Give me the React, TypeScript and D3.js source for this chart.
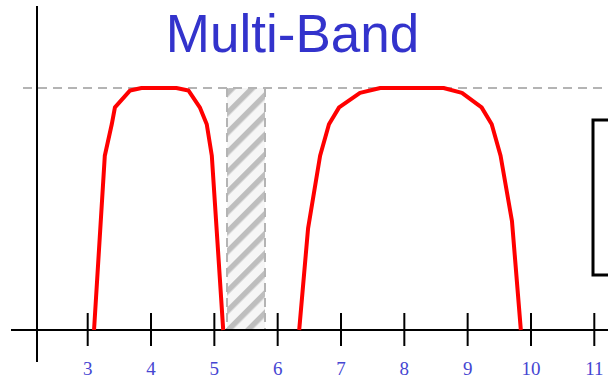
import React from "react";
import * as d3 from "d3";

const tickValues = [3, 4, 5, 6, 7, 8, 9, 10, 11];
const band1X = [3.1, 3.27, 3.38, 3.43, 3.67, 3.85, 4.4, 4.59, 4.77, 4.88, 4.96, 5.14];
const band1Y = [0, 0.72, 0.85, 0.92, 0.99, 1.0, 1.0, 0.99, 0.92, 0.85, 0.72, 0];
const band2X = [6.34, 6.48, 6.67, 6.81, 6.97, 7.3, 7.62, 8.62, 8.91, 9.22, 9.38, 9.52, 9.7, 9.84];
const band2Y = [0, 0.42, 0.72, 0.85, 0.92, 0.98, 1.0, 1.0, 0.98, 0.92, 0.85, 0.72, 0.45, 0];
const guardBand = [5.2, 5.8];
const title = "Multi-Band";

const W = 608;
const H = 378;

export default function App() {
  const x = d3.scaleLinear().domain([3, 11]).range([87.7, 594.3]);
  const y = d3.scaleLinear().domain([0, 1]).range([330, 88]);
  const line = d3
    .line<[number, number]>()
    .x((d) => x(d[0]))
    .y((d) => y(d[1]))
    .curve(d3.curveLinear);
  const b1: [number, number][] = band1X.map((v, i) => [v, band1Y[i]]);
  const b2: [number, number][] = band2X.map((v, i) => [v, band2Y[i]]);
  const axisX = 37;
  const axisY = y(0);
  const gray = "#b4b4b4";

  return (
    <svg
      width={W}
      height={H}
      style={{ position: "absolute", left: 0, top: 0, background: "#fff" }}
    >
      <defs>
        <pattern
          id="hatch"
          patternUnits="userSpaceOnUse"
          width={14}
          height={14}
          patternTransform="rotate(45)"
        >
          <rect x={0} y={0} width={14} height={14} fill="#f6f6f6" />
          <rect x={0} y={0} width={5.5} height={14} fill="#bebebe" />
        </pattern>
      </defs>
      <text
        x={292.5}
        y={52.3}
        textAnchor="middle"
        fontFamily="'Liberation Sans', Arial, sans-serif"
        fontSize={53}
        fill="#3333cc"
      >
        {title}
      </text>
      <rect
        x={x(guardBand[0])}
        y={y(1)}
        width={x(guardBand[1]) - x(guardBand[0])}
        height={y(0) - y(1)}
        fill="url(#hatch)"
      />
      {guardBand.map((g, i) => (
        <line
          key={i}
          x1={x(g)}
          x2={x(g)}
          y1={y(1)}
          y2={y(0)}
          stroke={gray}
          strokeWidth={2}
          strokeDasharray="9,6"
        />
      ))}
      <line
        x1={23}
        x2={W}
        y1={y(1)}
        y2={y(1)}
        stroke={gray}
        strokeWidth={2}
        strokeDasharray="9,6"
      />
      <line x1={11} x2={W} y1={axisY} y2={axisY} stroke="#000" strokeWidth={2} />
      <line x1={axisX} x2={axisX} y1={6} y2={362} stroke="#000" strokeWidth={2} />
      {tickValues.map((t) => (
        <g key={t}>
          <line
            x1={x(t)}
            x2={x(t)}
            y1={axisY - 17}
            y2={axisY + 16}
            stroke="#000"
            strokeWidth={2}
          />
          <text
            x={x(t)}
            y={374.5}
            textAnchor="middle"
            fontFamily="'Liberation Serif', 'Times New Roman', serif"
            fontSize={19}
            fill="#4646d2"
          >
            {t}
          </text>
        </g>
      ))}
      <path d={line(b1) || ""} fill="none" stroke="#ff0000" strokeWidth={4} strokeLinejoin="round" />
      <path d={line(b2) || ""} fill="none" stroke="#ff0000" strokeWidth={4} strokeLinejoin="round" />
      <rect x={593} y={120} width={40} height={155} fill="none" stroke="#000" strokeWidth={3} />
    </svg>
  );
}
